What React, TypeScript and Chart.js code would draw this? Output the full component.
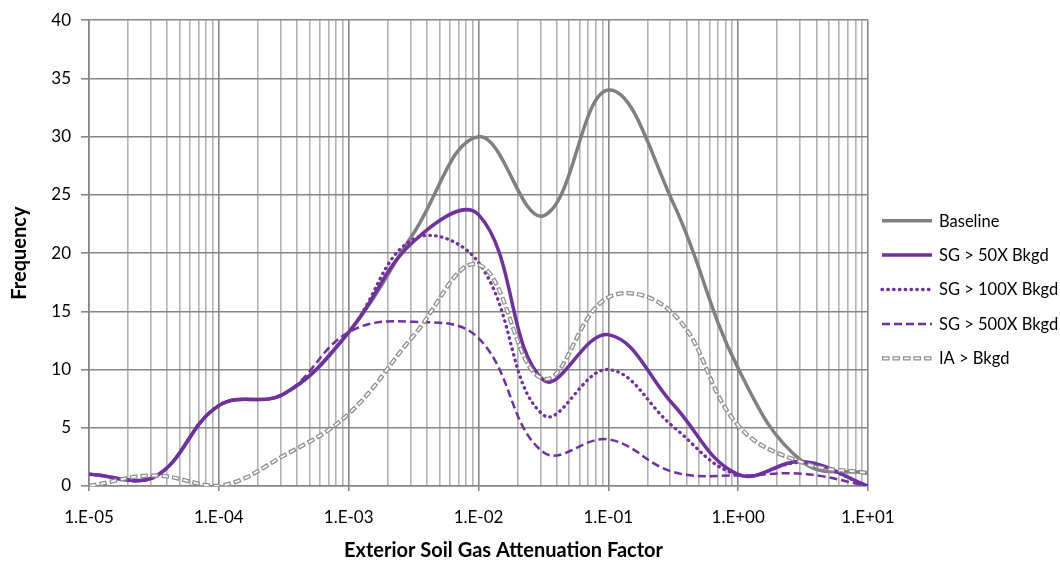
import React, { useEffect, useRef } from 'react';
import { Chart, registerables } from 'chart.js';

Chart.register(...registerables);

// ---- data ----
const attenuationFactors = [1e-5, 3.16e-5, 1e-4, 3.16e-4, 1e-3, 3.16e-3, 1e-2, 3.16e-2, 1e-1, 3.16e-1, 1, 3.16, 10];
const baseline = [1.0, 0.75, 6.9, 7.9, 13.2, 21.7, 30.0, 23.2, 34.0, 24.3, 10.1, 2.05, 1.1];
const sg50 = [1.0, 0.75, 6.9, 7.9, 13.2, 21.0, 23.3, 9.1, 13.0, 7.0, 1.0, 2.1, 0];
const sg100 = [1.0, 0.75, 6.9, 7.9, 13.2, 21.2, 19.2, 6.1, 10.0, 5.1, 0.95, 2.0, 0];
const sg500 = [1.0, 0.75, 6.9, 7.9, 13.2, 14.1, 12.7, 2.9, 4.0, 1.2, 0.9, 1.05, 0];
const iaBkgd = [0, 0.9, 0, 2.6, 6.2, 12.9, 19.0, 9.2, 16.2, 14.8, 5.2, 2.0, 1.1];

const seriesLabels = ['Baseline', 'SG > 50X Bkgd', 'SG > 100X Bkgd', 'SG > 500X Bkgd', 'IA > Bkgd'];
const xDecades = [1e-5, 1e-4, 1e-3, 1e-2, 1e-1, 1, 10];
const xTickLabels = ['1.E-05', '1.E-04', '1.E-03', '1.E-02', '1.E-01', '1.E+00', '1.E+01'];
const yTickLabels = ['0', '5', '10', '15', '20', '25', '30', '35', '40'];
const xAxisTitle = 'Exterior Soil Gas Attenuation Factor';
const yAxisTitle = 'Frequency';

// ---- styling ----
const PURPLE = '#7030A0';
const GREY = '#808080';
const IA_GREY = '#8e8e8e';
const GRID_MAJOR = '#868686';
const GRID_MINOR = '#b2b2b2';
const FONT = 'Lato';

const isDecade = (v: number) => xDecades.some((d) => Math.abs(v / d - 1) < 1e-9);

// gridline positions: 1..9 per decade
const xGridValues: number[] = [];
for (let i = 0; i < xDecades.length - 1; i++) {
  for (let m = 1; m <= 9; m++) xGridValues.push(Number((m * xDecades[i]).toPrecision(12)));
}
xGridValues.push(xDecades[xDecades.length - 1]);

const pts = (ys: number[]) => attenuationFactors.map((x, i) => ({ x, y: ys[i] }));

const overlayPlugin = {
  id: 'overlay',
  afterDraw(chart: any) {
    const { ctx, chartArea } = chart;
    ctx.save();
    // x-axis title
    ctx.font = `bold 20px ${FONT}`;
    ctx.fillStyle = '#000';
    ctx.textAlign = 'center';
    ctx.textBaseline = 'middle';
    ctx.fillText(xAxisTitle, (chartArea.left + chartArea.right) / 2 + 25, 551);

    // legend
    const x0 = chartArea.right + 14;
    const ds = chart.data.datasets;
    const drawSample = (d: any, y: number) => {
      ctx.beginPath();
      ctx.setLineDash(d.borderDash || []);
      ctx.lineDashOffset = d.borderDashOffset || 0;
      ctx.lineCap = d.borderCapStyle || 'butt';
      ctx.lineWidth = d.borderWidth;
      ctx.strokeStyle = d.borderColor;
      ctx.moveTo(x0, y);
      ctx.lineTo(x0 + 50, y);
      ctx.stroke();
    };
    seriesLabels.forEach((label, i) => {
      const y = 220.7 + i * 34.4;
      drawSample(ds[i], y);
      if (i === 4) drawSample(ds[5], y);
      ctx.setLineDash([]);
      ctx.font = `16.5px ${FONT}`;
      ctx.fillStyle = '#000';
      ctx.textAlign = 'left';
      ctx.textBaseline = 'middle';
      ctx.fillText(label, x0 + 57, y + 0.5);
    });
    ctx.restore();
  },
};

export default function App() {
  const canvasRef = useRef<HTMLCanvasElement | null>(null);

  useEffect(() => {
    if (!canvasRef.current) return;
    const common = { pointRadius: 0, pointHoverRadius: 0, fill: false, tension: 0.4 };
    const chart = new Chart(canvasRef.current, {
      type: 'line',
      data: {
        datasets: [
          { ...common, label: seriesLabels[0], data: pts(baseline), borderColor: GREY, borderWidth: 3.5, order: 5 },
          { ...common, label: seriesLabels[1], data: pts(sg50), borderColor: PURPLE, borderWidth: 3.5, order: 4 },
          { ...common, label: seriesLabels[2], data: pts(sg100), borderColor: PURPLE, borderWidth: 3.3, borderDash: [0.5, 5.3], borderCapStyle: 'round', order: 3 },
          { ...common, label: seriesLabels[3], data: pts(sg500), borderColor: PURPLE, borderWidth: 2.5, borderDash: [8, 4], order: 2 },
          { ...common, label: seriesLabels[4], data: pts(iaBkgd), borderColor: IA_GREY, borderWidth: 4.3, borderDash: [7.5, 3], order: 1 },
          { ...common, label: 'IA inner', data: pts(iaBkgd), borderColor: '#ffffff', borderWidth: 1.8, borderDash: [5.1, 5.4], borderDashOffset: -1.2, order: 0 },
        ] as any,
      },
      options: {
        animation: false,
        responsive: true,
        maintainAspectRatio: false,
        layout: { padding: { left: 0, right: 192, top: 13, bottom: 0 } },
        plugins: { legend: { display: false }, tooltip: { enabled: false }, title: { display: false } },
        scales: {
          x: {
            type: 'logarithmic',
            min: 1e-5,
            max: 10,
            afterBuildTicks: (scale: any) => {
              scale.ticks = xGridValues.map((v) => ({ value: v, major: isDecade(v) }));
            },
            afterFit: (scale: any) => {
              scale.height = 80;
            },
            ticks: {
              autoSkip: false,
              maxRotation: 0,
              minRotation: 0,
              padding: 16,
              color: '#000',
              font: { family: FONT, size: 17 },
              callback: (value: any) => {
                const i = xDecades.findIndex((d) => Math.abs(Number(value) / d - 1) < 1e-9);
                return i >= 0 ? xTickLabels[i] : '';
              },
            },
            grid: {
              color: (c: any) => (c.tick && isDecade(c.tick.value) ? GRID_MAJOR : GRID_MINOR),
              lineWidth: 1.6,
              tickLength: 5,
              tickColor: (c: any) => (c.tick && isDecade(c.tick.value) ? GRID_MAJOR : 'rgba(0,0,0,0)'),
              drawOnChartArea: true,
            },
            border: { color: GRID_MAJOR, width: 1.6 },
            title: { display: false },
          },
          y: {
            type: 'linear',
            min: 0,
            max: 40,
            afterFit: (scale: any) => {
              scale.width = 89;
            },
            ticks: {
              stepSize: 5,
              padding: 10,
              color: '#000',
              font: { family: FONT, size: 17 },
              callback: (value: any) => {
                const i = Math.round(Number(value) / 5);
                return yTickLabels[i] ?? '';
              },
            },
            grid: { color: GRID_MAJOR, lineWidth: 1.6, tickLength: 8, tickColor: GRID_MAJOR },
            border: { color: GRID_MAJOR, width: 1.6 },
            title: {
              display: true,
              text: yAxisTitle,
              color: '#000',
              font: { family: FONT, size: 20, weight: 'bold' },
              padding: { top: 8, bottom: 0 },
            },
          },
        },
      } as any,
      plugins: [overlayPlugin],
    });
    return () => chart.destroy();
  }, []);

  return (
    <div style={{ position: 'absolute', left: 0, top: 0, width: 1060, height: 566, background: '#fff' }}>
      <canvas ref={canvasRef} />
    </div>
  );
}
